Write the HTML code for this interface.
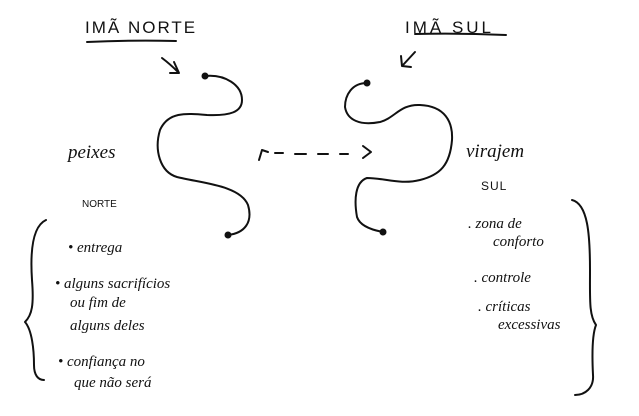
<!DOCTYPE html>
<html><head><meta charset="utf-8"><style>
html,body{margin:0;padding:0;background:#fff;}
svg{display:block}
text{font-family:"Liberation Serif",serif;font-style:italic;fill:#111}
.c{font-family:"Liberation Sans",sans-serif;font-style:normal}
</style></head><body>
<svg width="639" height="416" viewBox="0 0 639 416" xmlns="http://www.w3.org/2000/svg">
<rect width="639" height="416" fill="#fff"/>
<g fill="none" stroke="#111" stroke-width="2" stroke-linecap="round" stroke-linejoin="round">
<path d="M87 42 Q130 40 176 41"/>
<path d="M415 34 Q460 33 506 35"/>
<path d="M205 76 C225 74 242 85 242 100 C242 112 230 116 207 115 C185 113 168 112 160 130 C154 150 160 172 177 177 C200 183 240 185 248 205 C253 222 245 233 228 235"/>
<path d="M367 83 C352 83 345 95 345 107 C347 120 360 126 380 122 C395 118 400 104 420 105 C445 106 453 122 452 140 C450 165 440 175 420 180 C400 185 385 178 367 178 C355 182 354 200 357 217 C360 226 372 230 383 232"/>
<path d="M162 58 Q170 64 178 72 M174 62 L179 73 L170 73"/>
<path d="M415 52 L403 65 M401 56 L402 66 L411 67"/>
<path d="M259 160 L262 150 L268 152"/>
<path d="M275 153 L283 153 M295 154 L306 154 M318 154 L328 154 M340 154 L348 154"/>
<path d="M363 146 L371 152 L363 158"/>
<path d="M46 220 C33 226 30 250 32 280 C34 305 32 315 25 322 C32 330 34 350 34 365 C34 375 38 380 44 380"/>
<path d="M572 200 C588 204 590 235 590 270 C590 300 589 315 596 325 C592 335 592 355 593 375 C594 388 585 395 575 395"/>
</g>
<g fill="#111">
<circle cx="205" cy="76" r="3.5"/><circle cx="228" cy="235" r="3.5"/>
<circle cx="367" cy="83" r="3.5"/><circle cx="383" cy="232" r="3.5"/>
</g>
<text class="c" x="85" y="33" font-size="17" letter-spacing="2">IMÃ NORTE</text>
<text class="c" x="405" y="33" font-size="17" letter-spacing="3">IMÃ SUL</text>
<text x="68" y="158" font-size="19">peixes</text>
<text class="c" x="82" y="207" font-size="10">NORTE</text>
<text x="68" y="252" font-size="15">• entrega</text>
<text x="55" y="288" font-size="15">• alguns sacrifícios</text>
<text x="70" y="307" font-size="15">ou fim de</text>
<text x="70" y="330" font-size="15">alguns deles</text>
<text x="58" y="366" font-size="15">• confiança no</text>
<text x="74" y="387" font-size="15">que não será</text>
<text x="466" y="157" font-size="19">virajem</text>
<text class="c" x="481" y="190" font-size="12" letter-spacing="1">SUL</text>
<text x="468" y="228" font-size="15">. zona de</text>
<text x="493" y="246" font-size="15">conforto</text>
<text x="474" y="282" font-size="15">. controle</text>
<text x="478" y="311" font-size="15">. críticas</text>
<text x="498" y="329" font-size="15">excessivas</text>
</svg>
</body></html>
